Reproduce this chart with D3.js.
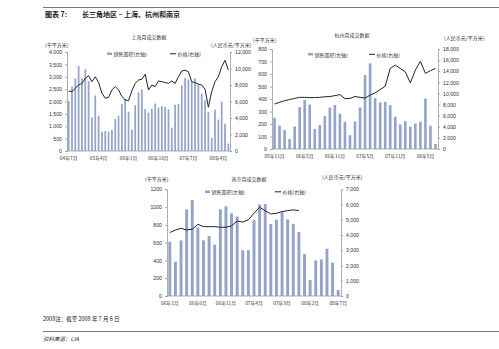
<!DOCTYPE html>
<html><head><meta charset="utf-8">
<script src="https://cdn.jsdelivr.net/npm/d3@7"></script>
<style>html,body{margin:0;padding:0;background:#fff;}svg{display:block;}</style>
</head><body>
<script>
// ---------- DATA ----------
const shCategories = ["04-07","04-08","04-09","04-10","04-11","04-12","05-01","05-02","05-03","05-04","05-05","05-06","05-07","05-08","05-09","05-10","05-11","05-12","06-01","06-02","06-03","06-04","06-05","06-06","06-07","06-08","06-09","06-10","06-11","06-12","07-01","07-02","07-03","07-04","07-05","07-06","07-07","07-08","07-09","07-10","07-11","07-12","08-01","08-02","08-03","08-04","08-05","08-06","08-07"];
const shArea = [2020,2600,2930,3430,2930,3300,2830,1360,2240,1430,780,810,780,850,1290,1430,1900,2100,1590,870,1850,2370,2490,1690,1550,1710,1920,1750,1810,1780,1690,940,1870,1890,2650,2950,2890,2790,2930,2680,2320,2050,1570,530,1670,1270,2000,1100,300];
const shPrice = [7270,7200,7600,8000,8200,8800,9130,8400,9000,8300,7000,6400,6500,7400,7800,7400,6600,6200,6100,7300,8200,8600,8700,9300,7400,8000,7800,8500,8400,8300,8200,8500,8200,9000,9700,9800,9600,8400,8300,8100,8000,7500,5300,7200,8400,9000,10200,11000,9800];
const shTickCats = ["04-07","05-04","06-01","06-10","07-07","08-04"];
const shTickLabels = ["04年7月","05年4月","06年1月","06年10月","07年7月","08年4月"];

const hzCategories = ["05-11","05-12","06-01","06-02","06-03","06-04","06-05","06-06","06-07","06-08","06-09","06-10","06-11","06-12","07-01","07-02","07-03","07-04","07-05","07-06","07-07","07-08","07-09","07-10","07-11","07-12","08-01","08-02","08-03","08-04","08-05","08-06","08-07"];
const hzArea = [250,187,152,80,180,335,392,355,160,192,262,332,352,283,218,110,221,333,592,685,407,373,378,351,258,196,222,178,204,218,404,187,40];
const hzPrice = [8100,8400,8700,8900,9100,9300,9300,9250,9250,9300,9400,9450,9600,9800,9050,9100,9450,9300,9150,9700,10100,10700,11300,14500,15100,14500,13900,11900,14200,15800,13600,14100,14500];
const hzTickCats = ["05-11","06-05","06-11","07-05","07-11","08-05"];
const hzTickLabels = ["05年11月","06年5月","06年11月","07年5月","07年11月","08年5月"];

const njCategories = ["06-01","06-02","06-03","06-04","06-05","06-06","06-07","06-08","06-09","06-10","06-11","06-12","07-01","07-02","07-03","07-04","07-05","07-06","07-07","07-08","07-09","07-10","07-11","07-12","08-01","08-02","08-03","08-04","08-05","08-06","08-07"];
const njArea = [611,386,626,975,1080,772,626,675,578,975,1009,930,893,514,514,857,1029,1034,810,857,943,862,810,720,470,180,398,411,531,375,68];
const njPrice = [4160,4330,4440,4330,4380,4700,4550,4550,4550,4510,4510,4600,4920,4850,5000,5430,5820,5600,5380,5430,5540,5600,5650,5600];
const njTickCats = ["06-01","06-06","06-11","07-04","07-09","08-02","08-07"];
const njTickLabels = ["06年1月","06年6月","06年11月","07年4月","07年9月","08年2月","08年7月"];

const legendArea = "销售面积(左轴)";
const legendPrice = "价格(右轴)";
const leftUnit = "(千平方米)";
const rightUnit = "(人民币元/平方米)";

// ---------- DRAW ----------
const W = 499, H = 349;
const CJK = "'Noto Sans CJK SC','Noto Sans',sans-serif";
const NUM = "'Liberation Sans',Arial,sans-serif";
const BAR = "#93a3c9", LINE = "#222", TXT = "#333", AX = "#999";

const svg = d3.select("body").append("svg").attr("width", W).attr("height", H);

// header
svg.append("line").attr("x1",43).attr("x2",499).attr("y1",7.5).attr("y2",7.5).attr("stroke","#555").attr("stroke-width",0.8);
svg.append("text").attr("x",45).attr("y",17).attr("font-family",CJK).attr("font-size",7).attr("font-weight","bold").attr("fill","#222").text("图表 7:");
svg.append("text").attr("x",82).attr("y",17).attr("font-family",CJK).attr("font-size",7).attr("font-weight","bold").attr("fill","#222").text("长三角地区 – 上海、杭州和南京");

function chart(o) {
  const g = svg.append("g");
  const x = d3.scaleBand().domain(o.cats).range([o.x0, o.x1]).paddingInner(0.48).paddingOuter(0.24);
  const yL = d3.scaleLinear().domain([0, o.lMax]).range([o.yB, o.yT]);
  const yR = d3.scaleLinear().domain([0, o.rMax]).range([o.yB, o.yT]);

  // bars
  g.selectAll("rect.bar").data(o.area).join("rect")
    .attr("x", (d,i) => x(o.cats[i]))
    .attr("width", x.bandwidth())
    .attr("y", d => yL(d))
    .attr("height", d => o.yB - yL(d))
    .attr("fill", BAR);

  // axes
  const axL = d3.axisLeft(yL).tickValues(d3.range(0, o.lMax + 1, o.lStep)).tickFormat(o.lFmt).tickSize(2).tickPadding(3);
  const axR = d3.axisRight(yR).tickValues(d3.range(0, o.rMax + 1, o.rStep)).tickFormat(d3.format(",")).tickSize(2).tickPadding(3);
  const axB = d3.axisBottom(x).tickValues(o.tickCats).tickFormat((d,i) => o.tickLabels[i]).tickSize(0).tickPadding(5.5);

  const gl = g.append("g").attr("transform", `translate(${o.x0},0)`).call(axL);
  const gr = g.append("g").attr("transform", `translate(${o.x1},0)`).call(axR);
  const gb = g.append("g").attr("transform", `translate(0,${o.yB})`).call(axB);
  [gl, gr, gb].forEach(a => {
    a.selectAll("path").attr("stroke", AX).attr("stroke-width", 0.8);
    a.selectAll("line").attr("stroke", AX).attr("stroke-width", 0.8);
    a.selectAll("text").attr("fill", TXT).attr("font-size", 5.2).attr("font-family", NUM);
  });
  gb.selectAll("text").attr("font-family", CJK).attr("font-size", 4.8);
  gb.select("path").attr("d", `M${o.x0},0H${o.x1}`);

  // price line
  const line = d3.line().x((d,i) => x(o.cats[i]) + x.bandwidth()/2).y(d => yR(d));
  g.append("path").datum(o.price).attr("d", line).attr("fill", "none").attr("stroke", LINE).attr("stroke-width", 1);

  // titles
  const tt = (tx, ty, s, anchor) => g.append("text").attr("x", tx).attr("y", ty).attr("font-family", CJK)
      .attr("font-size", 5).attr("fill", TXT).attr("text-anchor", anchor || "start").text(s);
  tt(o.titleX, o.titleY, o.title, "middle");
  tt(o.lLabX, o.lLabY, leftUnit);
  tt(o.rLabX, o.rLabY, rightUnit);
  // legend
  g.append("rect").attr("x", o.leg1X).attr("y", o.legY - 3.5).attr("width", 5).attr("height", 2.5).attr("fill", BAR);
  tt(o.leg1X + 6.5, o.legY, legendArea);
  g.append("line").attr("x1", o.leg2X).attr("x2", o.leg2X + 6).attr("y1", o.legY - 2.2).attr("y2", o.legY - 2.2).attr("stroke", LINE).attr("stroke-width", 1);
  tt(o.leg2X + 7.5, o.legY, legendPrice);
}

chart({cats: shCategories, area: shArea, price: shPrice, tickCats: shTickCats, tickLabels: shTickLabels,
  x0: 67, x1: 230, yT: 52, yB: 151, lMax: 4000, lStep: 500, lFmt: d3.format(","), rMax: 12000, rStep: 2000,
  title: "上海月成交数据", titleX: 149, titleY: 39, lLabX: 45, lLabY: 46.5, rLabX: 211, rLabY: 46.5,
  leg1X: 107, leg2X: 170, legY: 56});

chart({cats: hzCategories, area: hzArea, price: hzPrice, tickCats: hzTickCats, tickLabels: hzTickLabels,
  x0: 272, x1: 438, yT: 49, yB: 149, lMax: 800, lStep: 100, lFmt: d3.format(","), rMax: 18000, rStep: 2000,
  title: "杭州月成交数据", titleX: 352, titleY: 37, lLabX: 253, lLabY: 41.5, rLabX: 444, rLabY: 40,
  leg1X: 308, leg2X: 369, legY: 56.5});

chart({cats: njCategories, area: njArea, price: njPrice, tickCats: njTickCats, tickLabels: njTickLabels,
  x0: 167, x1: 341, yT: 189.3, yB: 296, lMax: 1200, lStep: 200, lFmt: d3.format("d"), rMax: 7000, rStep: 1000,
  title: "南京月成交数据", titleX: 249, titleY: 180.5, lLabX: 145, lLabY: 180.5, rLabX: 322, rLabY: 179,
  leg1X: 205, leg2X: 275, legY: 194});

// footer
svg.append("text").attr("x",43).attr("y",321).attr("font-family",CJK).attr("font-size",5.5).attr("fill","#222").text("2008注：截至 2008 年 7 月 6 日");
svg.append("line").attr("x1",43).attr("x2",499).attr("y1",331.5).attr("y2",331.5).attr("stroke","#555").attr("stroke-width",0.8);
svg.append("text").attr("x",43).attr("y",341).attr("font-family",CJK).attr("font-size",5.5).attr("font-style","italic").attr("fill","#222").text("资料来源：CIA");
</script>
</body></html>
